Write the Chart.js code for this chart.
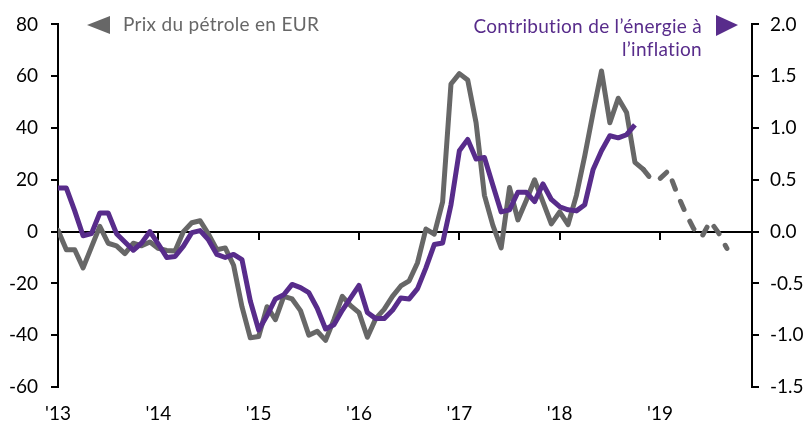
<!DOCTYPE html>
<html lang="fr">
<head>
<meta charset="utf-8">
<script src="https://cdn.jsdelivr.net/npm/chart.js@4.4.1/dist/chart.umd.min.js"></script>
<style>
  html, body { margin: 0; padding: 0; background: #fff; }
  #wrap { width: 806px; height: 423px; position: relative; }
</style>
</head>
<body>
<div id="wrap"><canvas id="chart" width="806" height="423"></canvas></div>
<script>
// Monthly, Jan 2013 .. Dec 2019 (84 slots on the x axis)
const yearLabels = ["'13", "'14", "'15", "'16", "'17", "'18", "'19"];
const MONTHS = 84;

// Oil price in EUR, y/y % (left axis), Jan 2013 .. Sep 2019; dashed after Nov 2018
const oilEur = [
  0.5, -7, -7, -14, -6, 2, -4.5, -5.5, -8.5, -4.5, -5.5, -4,
  -6.5, -7.3, -7.5, 0, 3.4, 4.2, -1, -7, -6.3, -13, -29, -41,
  -40.5, -29, -34, -25, -26, -30.5, -40, -38.5, -42, -34, -25, -28.6,
  -31.3, -40.8, -33.6, -30, -25, -21, -19, -12, 1, -1, 11.5, 57,
  61, 58.5, 42, 14, 2.5, -6.3, 17, 4.5, 12, 20, 11.5, 3,
  7.6, 2.7, 14, 29.3, 46, 62, 42, 51.5, 46, 26.7, 24, 20,
  20.5, 23.5, 15, 7.6, 1.2, -2, 4, -0.5, -6.5
];
const oilSolidUntil = 70; // Nov 2018

// Energy contribution to inflation, pp (right axis), Jan 2013 .. Oct 2018
const energyContrib = [
  0.42, 0.42, 0.2, -0.04, -0.02, 0.18, 0.18, -0.02, -0.1, -0.18, -0.11, 0.0,
  -0.12, -0.25, -0.24, -0.14, -0.01, 0.01, -0.08, -0.22, -0.25, -0.22, -0.27, -0.67,
  -0.95, -0.81, -0.65, -0.61, -0.51, -0.54, -0.59, -0.74, -0.94, -0.9, -0.76, -0.64,
  -0.52, -0.78, -0.84, -0.84, -0.76, -0.64, -0.65, -0.55, -0.35, -0.125, -0.11, 0.26,
  0.78, 0.89, 0.7, 0.715, 0.45, 0.19, 0.21, 0.38, 0.38, 0.29, 0.46, 0.31,
  0.24, 0.21, 0.2, 0.26, 0.6, 0.78, 0.925, 0.905, 0.935, 1.03
];

const oilLabel = "Prix du pétrole en EUR";
const energyLabel = ["Contribution de l\u2019énergie à", "l\u2019inflation"];

const GREY = '#676767';
const PURPLE = '#582c8b';
const FONT = 'Lato, "Open Sans", sans-serif';

const toPoints = arr => arr.map((v, i) => ({ x: i, y: v }));

// legend drawn in the corners, like the original
const cornerLegend = {
  id: 'cornerLegend',
  afterDraw(chart) {
    const { ctx } = chart;
    ctx.save();
    ctx.font = '19px ' + FONT;
    ctx.letterSpacing = '0.3px'; // also keeps Lato from joining "ti"
    ctx.textBaseline = 'middle';

    ctx.fillStyle = GREY;
    ctx.beginPath();
    ctx.moveTo(87, 25); ctx.lineTo(110, 16); ctx.lineTo(110, 34); ctx.closePath();
    ctx.fill();
    ctx.textAlign = 'left';
    ctx.fillText(oilLabel, 123, 25);

    ctx.fillStyle = PURPLE;
    ctx.beginPath();
    ctx.moveTo(738, 25); ctx.lineTo(716, 15); ctx.lineTo(716, 36); ctx.closePath();
    ctx.fill();
    ctx.textAlign = 'right';
    ctx.fillText(energyLabel[0], 702, 27);
    ctx.fillText(energyLabel[1], 702, 50);
    ctx.restore();
  }
};

const tickFont = { family: FONT, size: 19 };

new Chart(document.getElementById('chart'), {
  type: 'line',
  data: {
    datasets: [
      {
        label: energyLabel.join(' '),
        data: toPoints(energyContrib),
        yAxisID: 'y2',
        borderColor: PURPLE,
        borderWidth: 5,
        pointRadius: 0,
        tension: 0,
        borderJoinStyle: 'round',
        order: 1
      },
      {
        label: oilLabel,
        data: toPoints(oilEur),
        yAxisID: 'y',
        borderColor: GREY,
        borderWidth: 5,
        pointRadius: 0,
        tension: 0,
        borderJoinStyle: 'round',
        borderCapStyle: 'round',
        segment: {
          borderDash: c => c.p0DataIndex >= oilSolidUntil ? [9, 13] : undefined
        },
        order: 2
      }
    ]
  },
  options: {
    responsive: false,
    animation: false,
    maintainAspectRatio: false,
    layout: { padding: { top: 20, bottom: 0, left: 0, right: 0 } },
    plugins: { legend: { display: false }, tooltip: { enabled: false } },
    scales: {
      x: {
        type: 'linear', min: 0, max: MONTHS - 1,
        grid: { display: false, drawTicks: false },
        border: { display: false },
        ticks: {
          stepSize: 12, includeBounds: false, autoSkip: false, maxRotation: 0,
          padding: 15, color: '#000', font: tickFont,
          callback: v => yearLabels[v / 12] ?? ''
        },
        afterFit: s => { s.height = 36; }
      },
      // axis line along zero, with the year tick marks
      xZero: {
        type: 'linear', min: 0, max: MONTHS - 1,
        position: { y: 0 },
        grid: { drawOnChartArea: false, tickLength: 7, color: '#000', lineWidth: 2 },
        border: { color: '#000', width: 2 },
        ticks: { stepSize: 12, includeBounds: false, display: false },
        afterFit: s => { s.height = 0; }
      },
      y: {
        position: 'left', min: -60, max: 80,
        grid: { drawOnChartArea: false, tickLength: 7, color: '#000', lineWidth: 2 },
        border: { color: '#000', width: 2 },
        ticks: { stepSize: 20, padding: 13, color: '#000', font: tickFont },
        afterFit: s => { s.width = 58; }
      },
      y2: {
        position: 'right', min: -1.5, max: 2.0,
        grid: { drawOnChartArea: false, tickLength: 7, color: '#000', lineWidth: 2 },
        border: { color: '#000', width: 2 },
        ticks: { stepSize: 0.5, padding: 11, color: '#000', font: tickFont,
          callback: v => v.toFixed(1) },
        afterFit: s => { s.width = 54; }
      }
    }
  },
  plugins: [cornerLegend]
});
</script>
</body>
</html>
